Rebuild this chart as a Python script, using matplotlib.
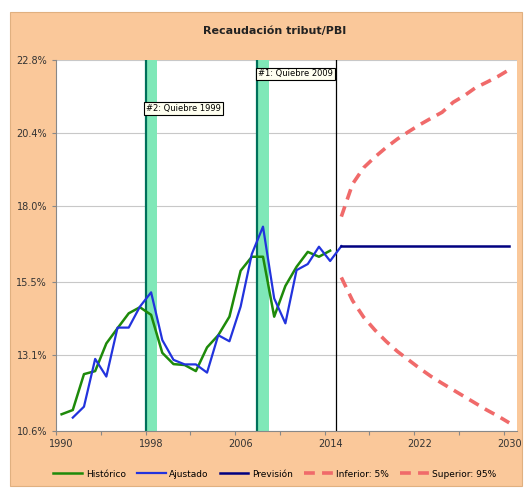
import numpy as np
import matplotlib
matplotlib.use("Agg")
import matplotlib.pyplot as plt
from matplotlib.patches import Rectangle

# --- datos ---
anios_hist = list(range(1990, 2015))
historico = [11.15, 11.29, 12.47, 12.57, 13.48, 13.98, 14.47, 14.67, 14.42, 13.17,
             12.80, 12.77, 12.57, 13.35, 13.75, 14.36, 15.87, 16.33, 16.33, 14.36,
             15.37, 16.00, 16.49, 16.33, 16.53]

anios_ajust = list(range(1991, 2016))
ajustado = [11.04, 11.40, 12.97, 12.39, 14.00, 14.00, 14.69, 15.16, 13.59, 12.94,
            12.79, 12.79, 12.52, 13.75, 13.55, 14.69, 16.42, 17.32, 14.96, 14.14,
            15.89, 16.09, 16.66, 16.19, 16.68]

anios_prev = list(range(2015, 2031))
prevision = [16.68] * 16
inferior = [15.65, 14.89, 14.34, 13.92, 13.55, 13.22, 12.94, 12.66, 12.40, 12.17,
            11.95, 11.73, 11.51, 11.29, 11.09, 10.87]
superior = [17.65, 18.72, 19.26, 19.61, 19.92, 20.20, 20.44, 20.67, 20.88, 21.08,
            21.41, 21.63, 21.89, 22.07, 22.26, 22.48]

quiebres = [1998, 2008]
etiquetas_quiebre = ["#2: Quiebre 1999", "#1: Quiebre 2009"]
y_etiquetas = [21.2, 22.34]
y_ticks = [10.6, 13.1, 15.5, 18.0, 20.4, 22.8]
x_labels = [1990, 1998, 2006, 2014, 2022, 2030]

W, H = 524, 490
fig = plt.figure(figsize=(W / 100, H / 100), dpi=100)
fig.patch.set_facecolor("white")
fig.patches.append(Rectangle((10 / W, 4 / H), 512 / W, 474 / H, transform=fig.transFigure,
                             facecolor="#FAC89A", edgecolor="#E0B080", lw=0.8, zorder=-10))

ax = fig.add_axes([56 / W, (H - 431) / H, 461 / W, 371 / H])
ax.set_facecolor("white")

# bandas de quiebre
for q in quiebres:
    ax.axvspan(q - 0.5, q + 0.5, color="#7FE8B8", lw=0, zorder=1)
    ax.axvline(q - 0.5, color="#00705A", lw=1.6, zorder=2)
ax.axvline(2014.5, color="black", lw=0.9, zorder=2)

ax.plot(anios_hist, historico, color="#1E8A0A", lw=1.8, zorder=4, label="Histórico")
ax.plot(anios_ajust, ajustado, color="#2233DD", lw=1.6, zorder=5, label="Ajustado")
ax.plot(anios_prev, prevision, color="#000080", lw=1.8, zorder=5, label="Previsión")
ax.plot(anios_prev, inferior, color="#F06A6A", lw=2.6, ls=(0, (3, 2)), zorder=5, label="Inferior: 5%")
ax.plot(anios_prev, superior, color="#F06A6A", lw=2.6, ls=(0, (3, 2)), zorder=5, label="Superior: 95%")

for q, txt, yt in zip(quiebres, etiquetas_quiebre, y_etiquetas):
    ax.text(q - 0.45, yt, txt, fontsize=6, va="center", ha="left", zorder=6,
            bbox=dict(boxstyle="square,pad=0.2", fc="#FFFFF0", ec="black", lw=0.8))

ax.set_xlim(1989.5, 2030.7)
ax.set_ylim(10.6, 22.8)
ax.set_yticks(y_ticks)
ax.set_yticklabels([f"{v:.1f}%" for v in y_ticks], fontsize=7, color="#333333")
ax.yaxis.grid(True, color="#C8C8C8", lw=0.8)
ax.set_axisbelow(True)

ax.set_xticks(np.arange(1989.5, 2030, 4))
ax.set_xticklabels([])
ax.set_xticks(x_labels, minor=True)
ax.set_xticklabels([str(a) for a in x_labels], minor=True, fontsize=7, color="#333333")
ax.tick_params(axis="x", which="minor", length=0, pad=6)
ax.tick_params(axis="x", which="major", length=3, color="#888888")
ax.tick_params(axis="y", length=3, color="#888888")
for s in ["top", "right"]:
    ax.spines[s].set_visible(False)
for s in ["left", "bottom"]:
    ax.spines[s].set_color("#888888")

fig.text(275 / W, 1 - 31 / H, "Recaudación tribut/PBI", ha="center", va="center",
         fontsize=8, fontweight="bold", color="#222222")

fig.legend(loc="center", bbox_to_anchor=(275 / W, 1 - 474 / H), ncol=5, frameon=False,
           fontsize=6.5, handlelength=3.2, columnspacing=1.2, handletextpad=0.4)

fig.savefig("out.png", dpi=100, facecolor=fig.get_facecolor())
